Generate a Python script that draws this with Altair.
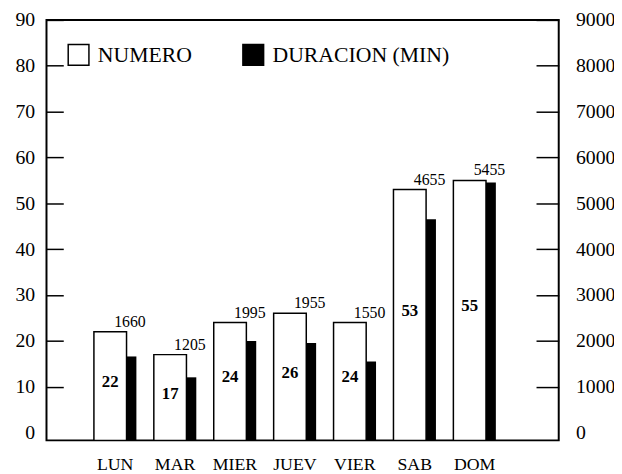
import altair as alt
import pandas as pd

dias = ["LUN", "MAR", "MIER", "JUEV", "VIER", "SAB", "DOM"]
numero = [22, 17, 24, 26, 24, 53, 55]
duracion = [1660, 1205, 1995, 1955, 1550, 4655, 5455]
series = ["NUMERO", "DURACION (MIN)"]
num_ticks = [0, 10, 20, 30, 40, 50, 60, 70, 80, 90]
dur_ticks = [0, 1000, 2000, 3000, 4000, 5000, 6000, 7000, 8000, 9000]
num_base = -1.7
dur_base = -170

df = pd.DataFrame({"dia": dias, "numero": numero, "duracion": duracion})

FONT = "Liberation Serif"

x = alt.X(
    "dia:N", sort=dias,
    scale=alt.Scale(paddingInner=0.29, paddingOuter=0.92, align=0.43),
    axis=alt.Axis(title=None, labelAngle=0, ticks=False, domain=False,
                  labelPadding=16, labelFontSize=18, labelFont=FONT,
                  labelColor="black"),
)

yl_scale = alt.Scale(domain=[num_base, 90], nice=False, zero=False)
yr_scale = alt.Scale(domain=[dur_base, 9000], nice=False, zero=False)

left_axis = alt.Axis(
    title=None, values=num_ticks, orient="left", grid=False, domain=False,
    format="d",
    tickSize=17, offset=-17, tickColor="black", tickWidth=1.5,
    tickOpacity={"condition": {"test": "datum.value == 0", "value": 0}, "value": 1},
    labelPadding=12, labelFontSize=20, labelFont=FONT, labelColor="black",
)
right_axis = alt.Axis(
    title=None, values=dur_ticks, orient="right", grid=False, domain=False,
    format="d",
    tickSize=23, offset=-23, tickColor="black", tickWidth=1.5,
    tickOpacity={"condition": {"test": "datum.value == 0", "value": 0}, "value": 1},
    labelPadding=17, labelFontSize=20, labelFont=FONT, labelColor="black",
)

fill_scale = alt.Scale(domain=series, range=["white", "black"])
legend = alt.Legend(
    title=None, orient="none", legendX=21, legendY=24, direction="horizontal",
    columns=2, padding=0, symbolType="square", symbolSize=441,
    symbolStrokeColor="black", symbolStrokeWidth=1.5, symbolOpacity=1,
    labelFont=FONT, labelFontSize=22, labelColor="black", labelOffset=8,
    labelLimit=400, columnPadding=48,
)

base = alt.Chart(df)

white = base.transform_calculate(serie=f"'{series[0]}'").mark_bar(
    width=alt.RelativeBandSize(0.767), xOffset=-5, stroke="black", strokeWidth=1.5, opacity=1
).encode(
    x=x,
    y=alt.Y("numero:Q", scale=yl_scale, axis=left_axis),
    y2=alt.datum(num_base),
    fill=alt.Fill("serie:N", scale=fill_scale, legend=legend),
)

inner = base.transform_calculate(mid="datum.numero / 2").mark_text(
    xOffset=-5, fontSize=17, fontWeight="bold", font=FONT, color="black"
).encode(
    x=x,
    y=alt.Y("mid:Q", scale=yl_scale, axis=left_axis),
    text=alt.Text("numero:Q"),
)

durlab = base.mark_text(
    xOffset=15, dy=-2, baseline="bottom", fontSize=16, font=FONT, color="black"
).encode(
    x=x,
    y=alt.Y("numero:Q", scale=yl_scale, axis=left_axis),
    text=alt.Text("duracion:Q"),
)

black = base.transform_calculate(serie=f"'{series[1]}'").mark_bar(
    width=alt.RelativeBandSize(0.2326), xOffset=16.5, opacity=1
).encode(
    x=x,
    y=alt.Y("duracion:Q", scale=yr_scale, axis=right_axis),
    y2=alt.datum(dur_base),
    fill=alt.Fill("serie:N", scale=fill_scale, legend=legend),
)

left = alt.layer(white, inner, durlab)

chart = alt.layer(left, black).resolve_scale(y="independent").properties(
    width=519, height=426,
    autosize=alt.AutoSizeParams(type="none"),
    padding={"left": 39, "top": 9, "right": 56, "bottom": 31},
    background="white",
).configure_view(stroke="black", strokeWidth=2)

chart.save("out.html", embed_options={"renderer": "svg", "actions": False})
